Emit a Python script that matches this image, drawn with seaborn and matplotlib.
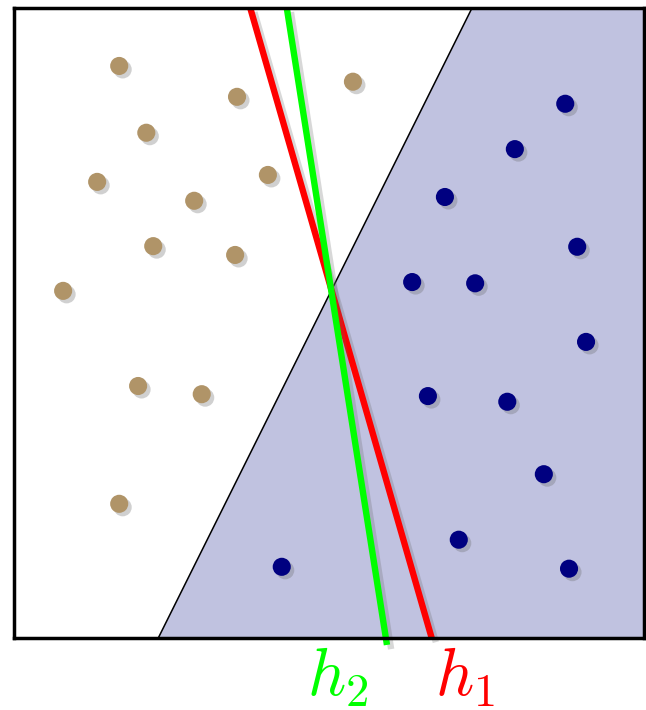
import numpy as np
import pandas as pd
import matplotlib
matplotlib.use("Agg")
import matplotlib.pyplot as plt
import matplotlib.patheffects as pe
import seaborn as sns

# data (box spans 0..10 on both axes)
brown_x = [1.67, 3.54, 5.38, 2.10, 1.32, 2.86, 4.03, 2.21, 3.51, 0.78, 1.97, 2.98, 1.67]
brown_y = [9.08, 8.59, 8.83, 8.02, 7.24, 6.94, 7.35, 6.22, 6.08, 5.51, 4.00, 3.87, 2.13]
navy_x = [8.75, 7.95, 6.84, 8.94, 6.32, 7.32, 9.08, 6.57, 7.83, 8.41, 7.06, 4.25, 8.81]
navy_y = [8.48, 7.76, 7.00, 6.21, 5.65, 5.63, 4.70, 3.84, 3.75, 2.60, 1.56, 1.13, 1.10]
region_x = [7.27, 10.0, 10.0, 2.29]
region_y = [10.0, 10.0, 0.0, 0.0]
h1_x = [3.75, 6.63]
h1_y = [10.0, 0.0]
h2_x = [4.33, 5.92]
h2_y = [10.0, -0.11]
labels = ["$h_2$", "$h_1$"]
label_x = [5.14, 7.16]
label_y = [-0.62, -0.62]

sns.set_theme(style="white")
plt.rcParams["mathtext.fontset"] = "cm"

fig = plt.figure(figsize=(6.46, 7.10), dpi=100)
ax = fig.add_axes([14/646, 72/710, 630/646, 630/710])

ax.fill(region_x, region_y, facecolor="#c0c2e0", edgecolor="none", zorder=1)
ax.plot([region_x[0], region_x[3]], [region_y[0], region_y[3]],
        color="black", lw=1.1, zorder=2)

df = pd.DataFrame({
    "x": brown_x + navy_x,
    "y": brown_y + navy_y,
    "cls": ["a"] * len(brown_x) + ["b"] * len(navy_x),
})
shadow = [pe.SimplePatchShadow(offset=(2.5, -2.5), shadow_rgbFace="#666666", alpha=0.3), pe.Normal()]
sns.scatterplot(data=df, x="x", y="y", hue="cls",
                palette={"a": "#b09468", "b": "#000080"},
                s=170, linewidth=0, legend=False, ax=ax, zorder=4)
for coll in ax.collections:
    coll.set_path_effects(shadow)

lshadow = [pe.SimpleLineShadow(offset=(3, -3), shadow_color="#666666", alpha=0.25), pe.Normal()]
l1, = ax.plot(h1_x, h1_y, color="#ff0000", lw=4.6, solid_capstyle="butt", zorder=5, clip_on=False)
l2, = ax.plot(h2_x, h2_y, color="#00ff00", lw=4.6, solid_capstyle="butt", zorder=5, clip_on=False)
l1.set_path_effects(lshadow)
l2.set_path_effects(lshadow)

for t, x, y, c in zip(labels, label_x, label_y, ["#00ff00", "#ff0000"]):
    ax.text(x, y, t, color=c, fontsize=48, ha="center", va="center", clip_on=False)

ax.set_xlim(0, 10)
ax.set_ylim(0, 10)
ax.set_xticks([])
ax.set_yticks([])
ax.set_xlabel("")
ax.set_ylabel("")
for s in ax.spines.values():
    s.set_visible(True)
    s.set_color("black")
    s.set_linewidth(2.5)
    s.set_zorder(6)

fig.savefig("out.png", dpi=100, facecolor="white")
